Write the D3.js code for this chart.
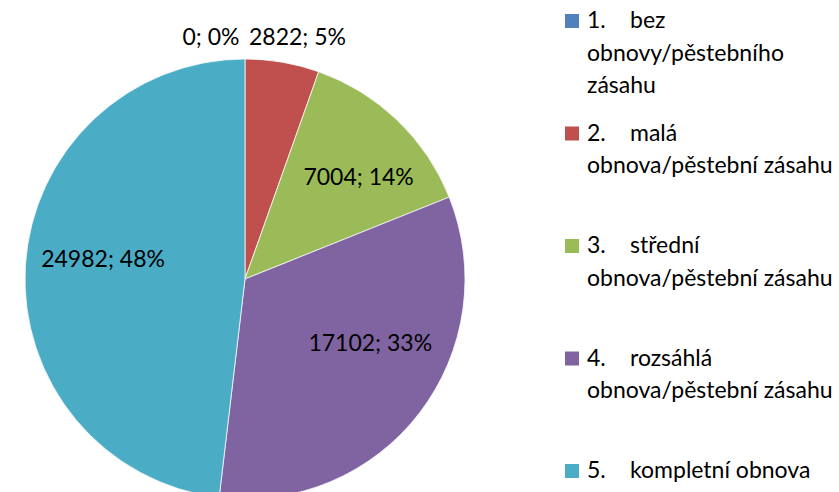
<!DOCTYPE html>
<html>
<head>
<meta charset="utf-8">
<script src="https://cdn.jsdelivr.net/npm/d3@7"></script>
<style>
  body { margin: 0; background: #fff; }
  text { font-family: Lato, "Open Sans", sans-serif; fill: #000; }
</style>
</head>
<body>
<div id="chart"></div>
<script>
// data
const categories = [
    "1.\tbez\nobnovy/pěstebního\nzásahu",
    "2.\tmalá\nobnova/pěstební zásahu",
    "3.\tstřední\nobnova/pěstební zásahu",
    "4.\trozsáhlá\nobnova/pěstební zásahu",
    "5.\tkompletní obnova"
];
const values = [0, 2822, 7004, 17102, 24982];
const percents = [0, 5, 14, 33, 48];   // as printed on the labels

const colors = ['#4F81BD', '#C0504D', '#9BBB59', '#8064A2', '#4BACC6'];

const width = 839, height = 492;
const cx = 245, cy = 279, R = 220;

// label placement: outside for tiny slices, else inside; small nudges mimic excel "best fit"
const outside = [true, true, false, false, false];
const labelNudge = [[-34, 2], [11, -2], [13, 3], [10, -24], [3, -12]];

const svg = d3.select('#chart').append('svg')
    .attr('width', width).attr('height', height);

const pie = d3.pie().sort(null).value(d => d.value);
const arcs = pie(values.map((v, i) => ({value: v, i})));

const arc = d3.arc().innerRadius(0).outerRadius(R);
const inArc = d3.arc().innerRadius(R*0.66).outerRadius(R*0.66);
const outArc = d3.arc().innerRadius(R + 24).outerRadius(R + 24);

const g = svg.append('g').attr('transform', `translate(${cx},${cy})`);

g.selectAll('path')
    .data(arcs)
  .enter().append('path')
    .attr('d', arc)
    .attr('fill', d => colors[d.data.i])
    .attr('stroke', '#fff')
    .attr('stroke-width', 0.75);

g.selectAll('text.lbl')
    .data(arcs)
  .enter().append('text')
    .attr('class', 'lbl')
    .attr('transform', d => {
        const i = d.data.i,
            c = (outside[i] ? outArc : inArc).centroid(d);
        return `translate(${c[0] + labelNudge[i][0]},${c[1] + labelNudge[i][1]})`;
    })
    .attr('text-anchor', 'middle')
    .attr('dy', '0.35em')
    .attr('font-size', 23)
    .text(d => `${d.data.value}; ${percents[d.data.i]}%`);

// legend
const legendX = 565, legendTop = 20, entryStep = 112.5, lineStep = 32.5, tabX = 630;

const legend = svg.append('g').attr('class', 'legend');
const entry = legend.selectAll('g')
    .data(categories)
  .enter().append('g')
    .attr('transform', (d, i) => `translate(0,${legendTop + i*entryStep})`);

entry.append('rect')
    .attr('x', legendX).attr('y', -6)
    .attr('width', 14).attr('height', 14)
    .attr('fill', (d, i) => colors[i]);

entry.each(function(d) {
    const sel = d3.select(this);
    d.split('\n').forEach((line, k) => {
        const parts = line.split('\t');
        const y = k*lineStep;
        sel.append('text')
            .attr('x', legendX + 22).attr('y', y)
            .attr('dy', '0.35em')
            .attr('font-size', 23)
            .text(parts[0]);
        if (parts.length > 1) {
            sel.append('text')
                .attr('x', tabX).attr('y', y)
                .attr('dy', '0.35em')
                .attr('font-size', 23)
                .text(parts[1]);
        }
    });
});
</script>
</body>
</html>
